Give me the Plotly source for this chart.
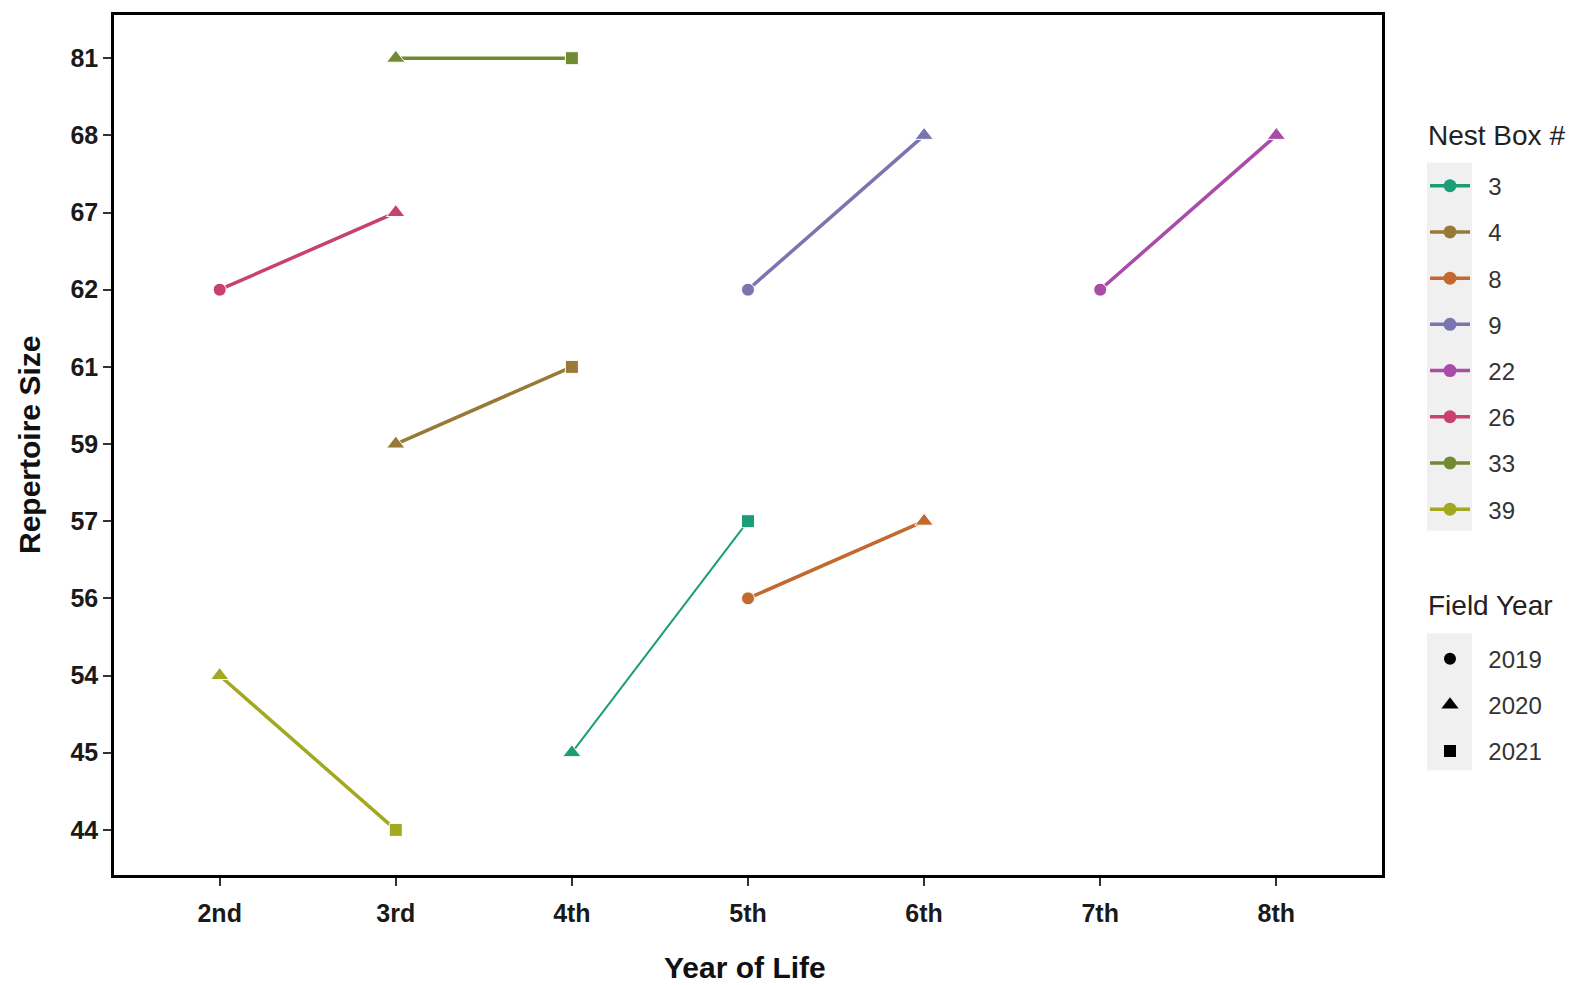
import plotly.graph_objects as go

# Per-bird repertoire sizes across consecutive years of life
box_ids = ["3", "3", "4", "4", "8", "8", "9", "9", "22", "22", "26", "26", "33", "33", "39", "39"]
life_year = ["4th", "5th", "3rd", "4th", "5th", "6th", "5th", "6th",
             "7th", "8th", "2nd", "3rd", "3rd", "4th", "2nd", "3rd"]
field_year = ["2020", "2021", "2020", "2021", "2019", "2020", "2019", "2020",
              "2019", "2020", "2019", "2020", "2020", "2021", "2020", "2021"]
repertoire = [45, 57, 59, 61, 56, 57, 62, 68, 62, 68, 62, 67, 81, 81, 54, 44]

nest_boxes = ["3", "4", "8", "9", "22", "26", "33", "39"]
box_colors = ["#1B9E77", "#987A38", "#C2692F", "#7A75AE", "#A84CA8", "#C8426F", "#728A32", "#A2A81F"]
box_widths = [2, 3.5, 3.5, 3.5, 3.5, 3.5, 3.5, 3.5]

life_years = ["2nd", "3rd", "4th", "5th", "6th", "7th", "8th"]
field_years = ["2019", "2020", "2021"]
year_symbols = ["circle", "triangle-up", "square"]
symbol_sizes = [13, 16, 13]

rep_levels = [str(v) for v in sorted(set(repertoire))]
sym_of = dict(zip(field_years, year_symbols))
size_of = dict(zip(field_years, symbol_sizes))

FONT = "Liberation Sans, Arial, sans-serif"
PAD = "\u00a0\u00a0"

fig = go.Figure()

for box, col, lw in zip(nest_boxes, box_colors, box_widths):
    idx = [i for i, b in enumerate(box_ids) if b == box]
    fig.add_trace(go.Scatter(
        x=[life_year[i] for i in idx],
        y=[str(repertoire[i]) for i in idx],
        mode="lines+markers",
        line=dict(color=col, width=lw),
        marker=dict(color=col, opacity=1,
                    size=[size_of[field_year[i]] for i in idx],
                    symbol=[sym_of[field_year[i]] for i in idx]),
        showlegend=False,
    ))

# Legend entries: nest box colours
for box, col in zip(nest_boxes, box_colors):
    fig.add_trace(go.Scatter(
        x=[None], y=[None], mode="lines+markers", name=PAD + box,
        line=dict(color=col, width=3.5), marker=dict(color=col, size=13, symbol="circle"),
        legend="legend", legendgroup="box" + box,
    ))

# Legend entries: field year shapes
for fy, sym, sz in zip(field_years, year_symbols, symbol_sizes):
    fig.add_trace(go.Scatter(
        x=[None], y=[None], mode="markers", name=PAD + fy,
        marker=dict(color="black", size=sz - 1, symbol=sym),
        legend="legend2", legendgroup="fy" + fy,
    ))

L, R, T, B = 114, 194, 13, 110
W, H = 1576, 985
pw, ph = W - L - R, H - T - B


def px_x(p):
    return (p - L) / pw


def px_y(p):
    return (H - B - p) / ph


axis_common = dict(
    showline=True, linecolor="black", linewidth=2.5, mirror=True,
    ticks="outside", ticklen=8, tickwidth=1.5, tickcolor="#333",
    showgrid=False, zeroline=False,
    tickfont=dict(family=FONT, size=25, color="#1a1a1a", weight="bold"),
)

legend_common = dict(
    font=dict(family=FONT, size=24, color="#333"),
    xanchor="left", yanchor="top",
    bgcolor="rgba(0,0,0,0)", traceorder="grouped", tracegroupgap=12,
    itemwidth=40, itemclick=False, itemdoubleclick=False,
)

fig.update_layout(
    width=W, height=H,
    margin=dict(l=L, r=R, t=T, b=B),
    paper_bgcolor="white", plot_bgcolor="white",
    font=dict(family=FONT),
    xaxis=dict(type="category", categoryorder="array", categoryarray=life_years,
               range=[-0.6, 6.6], ticklabelstandoff=6, **axis_common),
    yaxis=dict(type="category", categoryorder="array", categoryarray=rep_levels,
               range=[-0.585, 10.56], **axis_common),
    legend=dict(x=px_x(1425), y=px_y(162), **legend_common),
    legend2=dict(x=px_x(1425), y=px_y(636), **legend_common),
    shapes=[
        dict(type="rect", xref="paper", yref="paper", layer="above",
             x0=px_x(1427), x1=px_x(1472), y0=px_y(161), y1=px_y(530),
             fillcolor="#F0F0F0", line=dict(width=0)),
        dict(type="rect", xref="paper", yref="paper", layer="above",
             x0=px_x(1427), x1=px_x(1472), y0=px_y(633), y1=px_y(770),
             fillcolor="#F0F0F0", line=dict(width=0)),
    ],
    annotations=[
        dict(text="Nest Box #", xref="paper", yref="paper",
             x=px_x(1426), y=px_y(134), xanchor="left", yanchor="middle", showarrow=False,
             font=dict(family=FONT, size=28, color="#222")),
        dict(text="Field Year", xref="paper", yref="paper",
             x=px_x(1426), y=px_y(605), xanchor="left", yanchor="middle", showarrow=False,
             font=dict(family=FONT, size=28, color="#222")),
        dict(text="<b>Year of Life</b>", xref="paper", yref="paper",
             x=px_x(745), y=px_y(968), xanchor="center", yanchor="middle", showarrow=False,
             font=dict(family=FONT, size=30, color="#111")),
        dict(text="<b>Repertoire Size</b>", xref="paper", yref="paper",
             x=px_x(29), y=px_y(444), xanchor="center", yanchor="middle", showarrow=False,
             textangle=-90, font=dict(family=FONT, size=30, color="#111")),
    ],
)

fig.write_html("out.html")
